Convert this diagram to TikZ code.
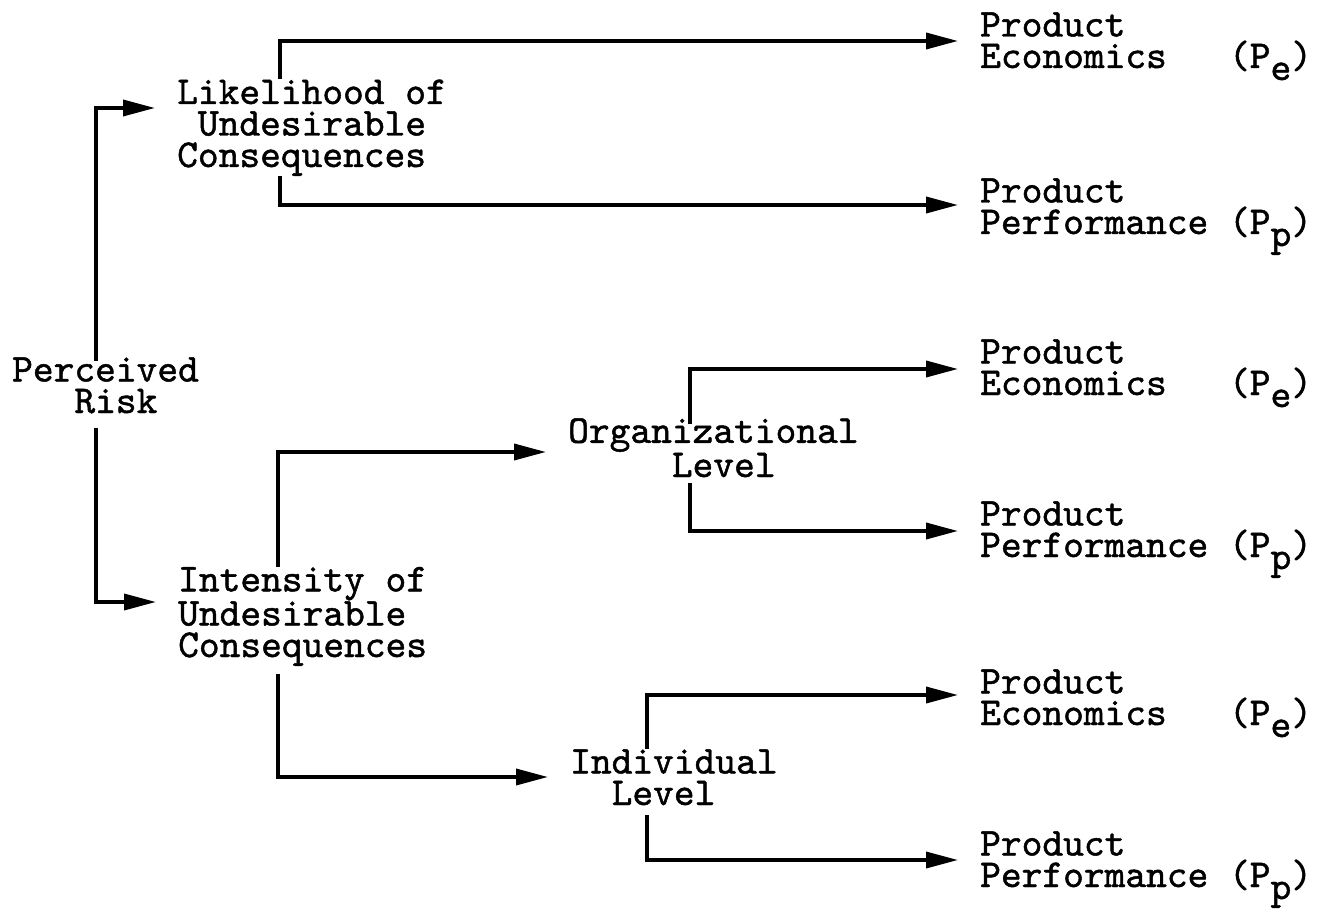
\documentclass[tikz,border=0pt]{standalone}
\usepackage{fontspec}
\usetikzlibrary{arrows.meta}

% typewriter lettering, slightly heavier than the plain mono face
\newfontfamily\twface{lmmono10-regular.otf}[FakeBold=1.2]
\newcommand\tw{\twface\fontsize{39.5}{31.5}\selectfont}
\newcommand\lowered[1]{\raisebox{-12pt}{#1}}

\begin{document}
\begin{tikzpicture}[x=1pt,y=-1pt,
  label/.style={font=\tw,align=left,inner sep=0pt,anchor=base west},
  wire/.style={line width=3.6pt,line join=miter},
  arr/.style={wire,-{Triangle[length=32pt,width=16pt]},shorten >=22pt}]
\useasboundingbox (0,0) rectangle (1319,909);

% labels (placed by the baseline of their last line)
\node[label] (PR) at (12,413)  {Perceived\\\phantom{XXX}Risk};
\node[label] (L)  at (177,167) {Likelihood of\\\phantom{X}Undesirable\\Consequences};
\node[label] (I)  at (178,657) {Intensity of\\Undesirable\\Consequences};
\node[label] (O)  at (568,477) {Organizational\\\phantom{XXXXX}Level};
\node[label] (D)  at (570,805) {Individual\\\phantom{XX}Level};

\node[label] (E1) at (980,68)  {Product\\Economics\phantom{XXX}(P\lowered{e})};
\node[label] (F1) at (980,234) {Product\\Performance (P\lowered{p})};
\node[label] (E2) at (980,395) {Product\\Economics\phantom{XXX}(P\lowered{e})};
\node[label] (F2) at (980,557) {Product\\Performance (P\lowered{p})};
\node[label] (E3) at (980,725) {Product\\Economics\phantom{XXX}(P\lowered{e})};
\node[label] (F3) at (980,887) {Product\\Performance (P\lowered{p})};

% elbow points of the connectors
\coordinate (pr-up) at (96,108);
\coordinate (pr-dn) at (96,602);
\coordinate (l-up)  at (280,41);
\coordinate (l-dn)  at (280,205);
\coordinate (i-up)  at (278,452);
\coordinate (i-dn)  at (278,777);
\coordinate (o-up)  at (690,369);
\coordinate (o-dn)  at (690,531);
\coordinate (d-up)  at (647,695);
\coordinate (d-dn)  at (647,860);

% connectors
\draw[arr] ([yshift=-4pt]PR.north -| pr-up) -- (pr-up) -- (pr-up -| L.west);
\draw[arr] ([yshift=-14pt]PR.south -| pr-dn) -- (pr-dn) -- (pr-dn -| I.west);

\draw[arr] (L.north -| l-up) -- (l-up) -- (l-up -| E1.west);
\draw[arr] (L.south -| l-dn) -- (l-dn) -- (l-dn -| F1.west);

\draw[arr] (I.north -| i-up) -- (i-up) -- (i-up -| O.west);
\draw[arr] ([yshift=-8pt]I.south -| i-dn) -- (i-dn) -- (i-dn -| D.west);

\draw[arr] ([yshift=-6pt]O.north -| o-up) -- (o-up) -- (o-up -| E2.west);
\draw[arr] ([yshift=-6pt]O.south -| o-dn) -- (o-dn) -- (o-dn -| F2.west);

\draw[arr] (D.north -| d-up) -- (d-up) -- (d-up -| E3.west);
\draw[arr] ([yshift=-10pt]D.south -| d-dn) -- (d-dn) -- (d-dn -| F3.west);
\end{tikzpicture}
\end{document}
